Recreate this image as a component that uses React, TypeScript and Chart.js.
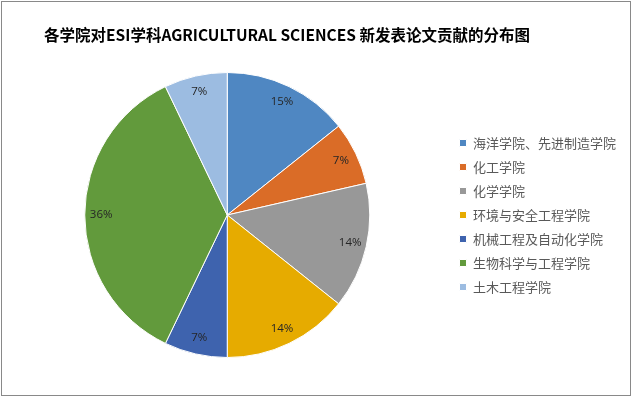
import React, { useEffect, useRef } from "react";
import { Chart, registerables } from "chart.js";

Chart.register(...registerables);

const titleText = "各学院对ESI学科AGRICULTURAL SCIENCES 新发表论文贡献的分布图";
const categories = [
  "海洋学院、先进制造学院",
  "化工学院",
  "化学学院",
  "环境与安全工程学院",
  "机械工程及自动化学院",
  "生物科学与工程学院",
  "土木工程学院",
];
const values = [2, 1, 2, 2, 1, 5, 1];
const percentLabels = ["15%", "7%", "14%", "14%", "7%", "36%", "7%"];
const colors = ["#4F87C2", "#DA6C27", "#989898", "#E6AB00", "#3E63AE", "#629A3C", "#9CBCE1"];

const framePlugin = {
  id: "frame",
  beforeDraw(chart: any) {
    const ctx = chart.ctx;
    ctx.save();
    ctx.fillStyle = "#ffffff";
    ctx.fillRect(0, 0, chart.width, chart.height);
    ctx.strokeStyle = "#898989";
    ctx.lineWidth = 1;
    ctx.strokeRect(1.5, 1.5, chart.width - 3, chart.height - 3);
    ctx.restore();
  },
  afterDraw(chart: any) {
    const ctx = chart.ctx;
    ctx.save();
    ctx.fillStyle = "#000000";
    ctx.font = "bold 15.5px 'Noto Sans CJK SC', sans-serif";
    ctx.textAlign = "center";
    ctx.textBaseline = "middle";
    ctx.fillText(titleText, 287, 35);
    ctx.restore();
  },
};

const labelPlugin = {
  id: "sliceLabels",
  afterDatasetsDraw(chart: any) {
    const ctx = chart.ctx;
    const meta = chart.getDatasetMeta(0);
    ctx.save();
    ctx.fillStyle = "#262626";
    ctx.font = "11.5px 'Open Sans', sans-serif";
    ctx.textAlign = "center";
    ctx.textBaseline = "middle";
    meta.data.forEach((arc: any, i: number) => {
      const p = arc.getProps(["x", "y", "startAngle", "endAngle", "outerRadius"], true);
      const mid = (p.startAngle + p.endAngle) / 2;
      const r = p.outerRadius * 0.885;
      ctx.fillText(percentLabels[i], p.x + Math.cos(mid) * r, p.y + Math.sin(mid) * r);
    });
    ctx.restore();
  },
};

export default function App() {
  const ref = useRef<HTMLCanvasElement | null>(null);
  useEffect(() => {
    document.body.style.margin = "0";
    const chart = new Chart(ref.current as HTMLCanvasElement, {
      type: "pie",
      data: {
        labels: categories,
        datasets: [
          {
            data: values,
            backgroundColor: colors,
            borderColor: "#ffffff",
            borderWidth: 1,
          },
        ],
      },
      options: {
        responsive: false,
        animation: false,
        layout: { padding: { left: 6, right: 6, top: 72, bottom: 39 } },
        plugins: {
          tooltip: { enabled: false },
          title: { display: false },
          legend: {
            position: "right",
            labels: {
              boxWidth: 7,
              boxHeight: 7,
              padding: 11,
              color: "#595959",
              font: { size: 13, family: "'Noto Sans CJK SC', sans-serif" },
            },
          },
        },
      },
      plugins: [framePlugin, labelPlugin],
    });
    return () => chart.destroy();
  }, []);
  return (
    <div style={{ width: 632, height: 397 }}>
      <canvas ref={ref} width={632} height={397} style={{ display: "block" }} />
    </div>
  );
}
